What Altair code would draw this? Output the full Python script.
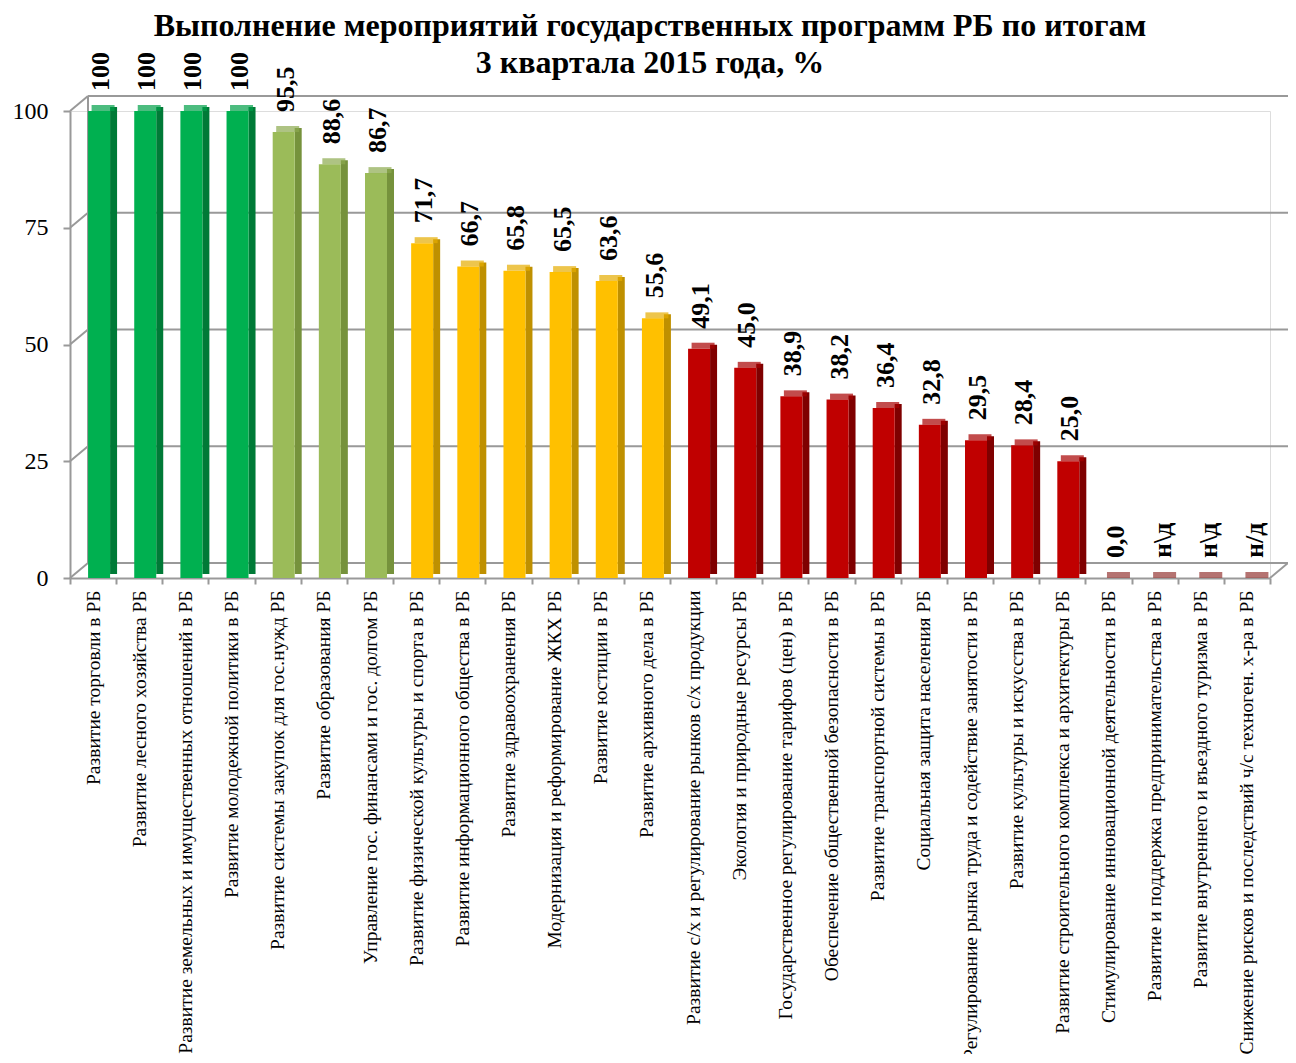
import altair as alt
import pandas as pd

programs = [
    "Развитие торговли в РБ",
    "Развитие лесного хозяйства РБ",
    "Развитие земельных и имущественных отношений в РБ",
    "Развитие молодежной политики в РБ",
    "Развитие системы закупок для гос.нужд РБ",
    "Развитие образования РБ",
    "Управление гос. финансами и гос. долгом РБ",
    "Развитие физической культуры и спорта в РБ",
    "Развитие информационного общества в РБ",
    "Развитие здравоохранения РБ",
    "Модернизация и реформирование ЖКХ РБ",
    "Развитие юстиции в РБ",
    "Развитие архивного дела в РБ",
    "Развитие с/х и регулирование рынков с/х продукции",
    "Экология и природные ресурсы РБ",
    "Государственное регулирование тарифов (цен) в РБ",
    "Обеспечение общественной безопасности в РБ",
    "Развитие транспортной системы в РБ",
    "Социальная защита населения РБ",
    "Регулирование рынка труда и содействие занятости в РБ",
    "Развитие культуры и искусства в РБ",
    "Развитие строительного комплекса и архитектуры РБ",
    "Стимулирование инновационной деятельности в РБ",
    "Развитие и поддержка  предпринимательства в РБ",
    "Развитие внутреннего и въездного туризма в РБ",
    "Снижение рисков и  последствий ч/с техноген. х-ра в РБ",
]
values = [100, 100, 100, 100, 95.5, 88.6, 86.7, 71.7, 66.7, 65.8, 65.5, 63.6, 55.6,
          49.1, 45.0, 38.9, 38.2, 36.4, 32.8, 29.5, 28.4, 25.0, 0.0, 0.0, 0.0, 0.0]
value_labels = ["100", "100", "100", "100", "95,5", "88,6", "86,7", "71,7", "66,7", "65,8",
                "65,5", "63,6", "55,6", "49,1", "45,0", "38,9", "38,2", "36,4", "32,8",
                "29,5", "28,4", "25,0", "0,0", "н\\д", "н\\д", "н/д"]
groups = ["A", "A", "A", "A", "B", "B", "B", "C", "C", "C", "C", "C", "C",
          "D", "D", "D", "D", "D", "D", "D", "D", "D", "E", "E", "E", "E"]
grid_values = [0, 25, 50, 75, 100]

group_domain = ["A", "B", "C", "D", "E"]
front_colors = ["#00B050", "#9BBB59", "#FFC000", "#C00000", "#953735"]
side_colors = ["#007A37", "#76923C", "#BF9000", "#7F0000", "#953735"]
top_colors = ["#00A049", "#8CAA4F", "#E6AD00", "#A80000", "#953735"]

W, H = 1200, 467
DEPTH_X, DEPTH_Y = 18, 15
du = DEPTH_Y * 100 / H
FONT = "Liberation Serif"

df = pd.DataFrame({"program": programs, "value": values, "label": value_labels, "group": groups})
grid = pd.DataFrame({"v": grid_values})

xenc = alt.X("program:N", sort=programs,
             scale=alt.Scale(paddingInner=0, paddingOuter=0),
             axis=alt.Axis(title=None, labelAngle=-90, labelAlign="right", labelBaseline="middle",
                           labelFont=FONT, labelFontSize=19.5, labelColor="black", labelLimit=700,
                           labelPadding=6, tickSize=6, tickColor="#999999", tickWidth=2,
                           domainColor="#999999", domainWidth=2, tickBand="extent"))
yenc = alt.Y("value:Q", scale=alt.Scale(domain=[0, 100], nice=False),
             axis=alt.Axis(title=None, values=grid_values, grid=False, labelFont=FONT,
                           labelFontSize=24, labelColor="black", labelPadding=15, tickSize=7,
                           tickColor="#999999", tickWidth=2, domainColor="#999999", domainWidth=2))

base_grid = alt.Chart(grid).transform_calculate(vb=f"datum.v + {du}")
back_lines = base_grid.mark_rule(color="#999999", strokeWidth=2).encode(
    y=alt.Y("vb:Q", scale=alt.Scale(domain=[0, 100], nice=False)),
    x=alt.value(DEPTH_X), x2=alt.value(W + DEPTH_X))
diag_lines = base_grid.mark_rule(color="#999999", strokeWidth=2).encode(
    y=alt.Y("v:Q"), y2="vb:Q", x=alt.value(0), x2=alt.value(DEPTH_X))
left_wall = base_grid.transform_aggregate(lo="min(vb)", hi="max(vb)").mark_rule(
    color="#999999", strokeWidth=2).encode(y="lo:Q", y2="hi:Q", x=alt.value(DEPTH_X))
floor_right = base_grid.transform_filter("datum.v == 0").mark_rule(
    color="#999999", strokeWidth=2).encode(y="v:Q", y2="vb:Q", x=alt.value(W), x2=alt.value(W + DEPTH_X))

base = alt.Chart(df)
side = base.mark_bar(size=7, xOffset=20.5, yOffset=-4, y2Offset=-4).encode(
    x=xenc, y=yenc,
    color=alt.Color("group:N", scale=alt.Scale(domain=group_domain, range=side_colors), legend=None))
front = base.mark_bar(size=22, xOffset=6).encode(
    x=xenc, y=yenc,
    color=alt.Color("group:N", scale=alt.Scale(domain=group_domain, range=front_colors), legend=None))
top = base.mark_tick(orient="horizontal", thickness=6, size=23, xOffset=10, yOffset=-3).encode(
    x=xenc, y=yenc,
    color=alt.Color("group:N", scale=alt.Scale(domain=group_domain, range=top_colors), legend=None))
text = base.mark_text(angle=270, align="left", baseline="middle", font=FONT, fontSize=26,
                      fontWeight="bold", color="black", xOffset=8, yOffset=-20).encode(
    x=xenc, y=yenc, text="label:N")

chart = alt.layer(back_lines, diag_lines, left_wall, floor_right, side, front, top, text).resolve_scale(
    color="independent"
).properties(
    width=W, height=H,
    title=alt.Title(text=["Выполнение мероприятий государственных программ РБ по итогам",
                          "3 квартала 2015 года, %"],
                    font=FONT, fontSize=32, fontWeight="bold", color="black", anchor="middle",
                    lineHeight=37, offset=30, dx=-20, dy=58),
    autosize=alt.AutoSizeParams(type="none"),
    padding={"left": 62, "top": 103, "right": 18, "bottom": 476},
).configure_view(stroke=None).configure(background="white")

chart.save("out.html", embed_options={"renderer": "svg", "actions": False})
